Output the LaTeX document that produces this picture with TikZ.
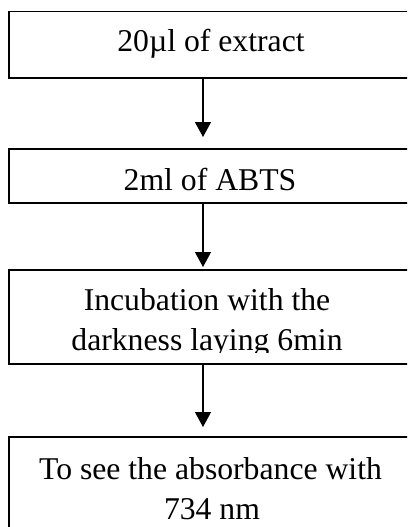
\documentclass[tikz,border=0pt]{standalone}
\usepackage{fontspec}
\setmainfont{Liberation Serif}
\usetikzlibrary{arrows.meta}
\begin{document}
\begin{tikzpicture}[x=1pt,y=-1pt,
  boxst/.style={draw, line width=1.5pt, rectangle, inner sep=0pt, anchor=north west, minimum width=406pt},
  txt/.style={anchor=base, inner sep=0pt, font=\fontsize{31.7pt}{40pt}\selectfont},
  arr/.style={-{Triangle[width=16pt,length=15pt]}, line width=1.3pt}]
\useasboundingbox (0,0) rectangle (407,527);
\clip (0,0) rectangle (407,527);
\fill[white] (0,0) rectangle (407,527);
\node[boxst, minimum height=66pt] (b1) at (8,11) {};
\node[boxst, minimum height=54pt] (b2) at (8,148) {};
\node[boxst, minimum height=94pt] (b3) at (8,269) {};
\node[boxst, minimum height=120pt] (b4) at (8,436) {};
\coordinate (ax) at (203,0);
\draw[arr, shorten >=11pt] (b1.south -| ax) -- (b2.north -| ax);
\draw[arr, shorten >=2pt] (b2.south -| ax) -- (b3.north -| ax);
\draw[arr, shorten >=9pt] (b3.south -| ax) -- (b4.north -| ax);
\node[txt] (t1) at (211,52) {20µl of extract};
\node[txt] (t2) at (210,190) {2ml of ABTS};
\node[txt] (t3a) at (207,310) {Incubation with the};
\begin{scope}
\clip (8,269) rectangle (414,352);
\node[txt] (t3b) at (207,350) {darkness laying 6min};
\end{scope}
\node[txt] (t4a) at (210.5,479) {To see the absorbance with};
\node[txt] (t4b) at (212,519) {734 nm};
\end{tikzpicture}
\end{document}
